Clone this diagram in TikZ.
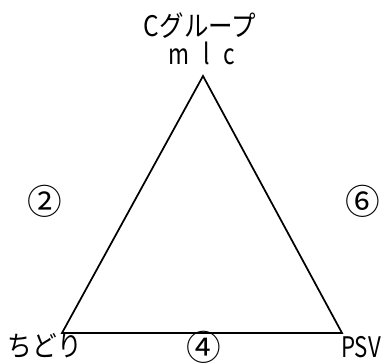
\documentclass[tikz,border=0pt]{standalone}
\usepackage{graphicx}
\usepackage{fontspec}
\setmainfont{Noto Sans CJK JP}
\usepackage{tikz}
\usetikzlibrary{positioning}

\newcommand{\tall}[2]{\scalebox{#1}[1.25]{#2}}

\begin{document}
\begin{tikzpicture}[x=0.75pt,y=0.75pt,font=\fontsize{17}{19}\selectfont,
    lbl/.style={inner sep=0pt,anchor=base},
    num/.style={inner sep=0pt,font=\fontsize{26}{28}\selectfont}]
      \useasboundingbox (0,0) rectangle (382,363);
      \coordinate (top) at (203,287);
      \coordinate (left) at (62,30);
      \coordinate (right) at (342,30);
      \draw[line width=1.3pt,line join=miter] (top) -- (left) -- (right) -- cycle;
      \node[lbl] (grp) at (200,326) {\tall{1.08}{Cグループ}};
      \node[lbl] (mlc) at (202,298) {\tall{1}{m\hspace{0.6em}l\hspace{0.6em}c}};
      \node[num] (two) at (45,162) {②};
      \node[num] (six) at (363,162) {⑥};
      \node[num] (four) at (204,16) {④};
      \node[lbl] (chidori) at (45,6) {\tall{1.09}{ちどり}};
      \node[lbl] (psv) at (361,5) {\tall{0.98}{PSV}};
    \end{tikzpicture}
\end{document}
